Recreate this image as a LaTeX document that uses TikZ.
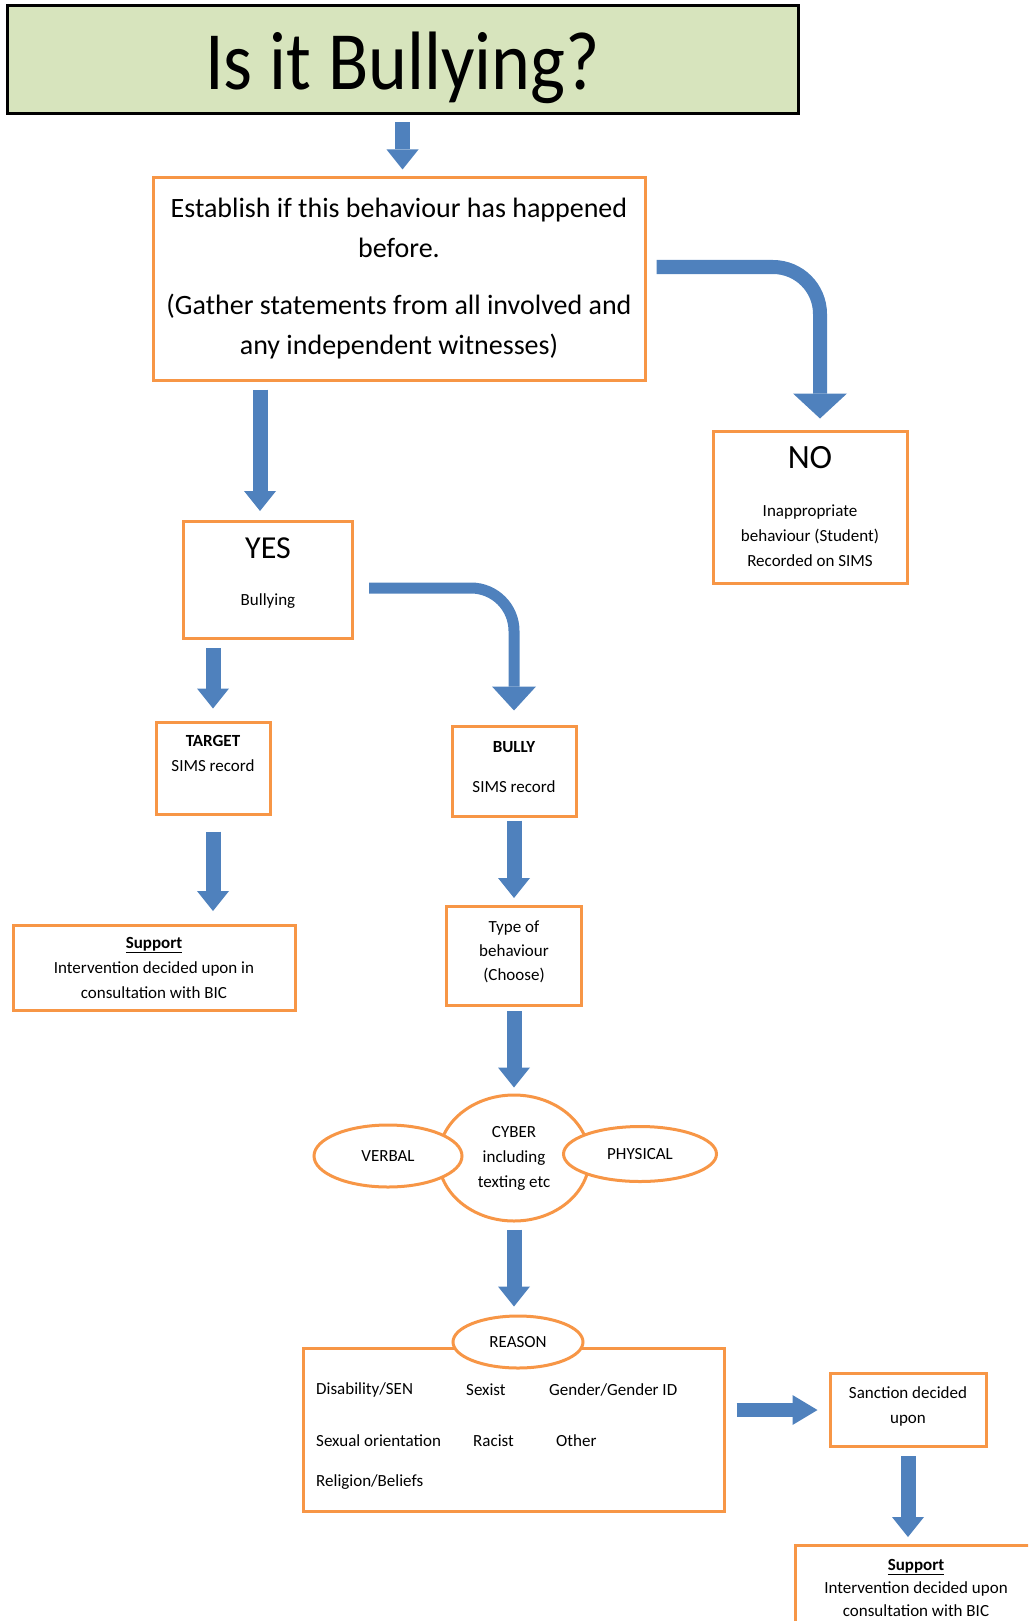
\documentclass[tikz,border=0pt]{standalone}
\usepackage{fontspec}
\setmainfont{Carlito}
\usetikzlibrary{shapes.geometric, arrows.meta, positioning, calc}
\definecolor{boxorange}{HTML}{F79646}
\definecolor{titlegreen}{HTML}{D7E4BD}
\definecolor{arrowblue}{HTML}{4F81BD}

\begin{document}
\begin{tikzpicture}[x=1pt, y=-1pt,
    box/.style={draw=boxorange, line width=3pt, fill=white, align=center, inner sep=0pt},
    oval/.style={ellipse, draw=boxorange, line width=3pt, fill=white, align=center, inner sep=0pt},
    small/.style={font=\fontsize{17}{25}\selectfont},
    reasontxt/.style={small, anchor=west, inner sep=0pt},
    blockarrow/.style={draw=arrowblue, line width=15pt, shorten <=7pt, shorten >=7pt,
      -{Triangle[width=32pt, length=20pt, line width=0pt]}},
  ]
  \useasboundingbox (0,0) rectangle (1028,1621);
  \clip (0,0) rectangle (1028,1621);

  % title and first question
  \node[draw=black, line width=3pt, fill=titlegreen, minimum width=791pt, minimum height=108pt,
    inner sep=0pt, font=\fontsize{74}{80}\selectfont] (title) at (402.5,60)
    {\raisebox{-30pt}[0pt][0pt]{\scalebox{1}[1.12]{Is it Bullying?}}};
  \node[box, minimum width=492pt, minimum height=202pt, font=\fontsize{28}{40}\selectfont] (est) at (399,279)
    {Establish if this behaviour has happened\\before.\\[17pt](Gather statements from all involved and\\any independent witnesses)};

  % answers
  \node[box, small, minimum width=194pt, minimum height=152pt] (no) at (810,507)
    {{\fontsize{34}{40}\selectfont NO}\\[23pt]Inappropriate\\behaviour (Student)\\Recorded on SIMS};
  \node[box, small, minimum width=169pt, minimum height=117pt] (yes) at (268,580)
    {{\fontsize{32}{40}\selectfont YES}\\[22pt]Bullying\\[-9pt]\mbox{}};

  % target side
  \node[box, small, minimum width=114pt, minimum height=92pt] (target) at (213,768)
    {\textbf{TARGET}\\SIMS record\\[5pt]\mbox{}};
  \node[box, small, minimum width=282pt, minimum height=85pt] (supl) at (154,968)
    {\underline{\textbf{Support}}\\Intervention decided upon in\\consultation with BIC};

  % bully side
  \node[box, small, minimum width=124pt, minimum height=90pt] (bully) at (514,771)
    {\textbf{BULLY}\\[15pt]SIMS record\\[-17pt]\mbox{}};
  \node[box, minimum width=135pt, minimum height=99pt, font=\fontsize{17}{24}\selectfont] (type) at (514,956)
    {Type of\\behaviour\\(Choose)\\[-14pt]\mbox{}};

  \node[oval, small, minimum width=151pt, minimum height=126pt] (cyber) at (514,1158)
    {CYBER\\including\\texting etc};
  \node[oval, small, minimum width=148pt, minimum height=62pt] (verbal) at (388,1156) {VERBAL};
  \node[oval, small, minimum width=153pt, minimum height=55pt] (physical) at (640,1154) {PHYSICAL};

  % reasons
  \node[box, minimum width=421pt, minimum height=163pt] (reasbox) at (513.5,1429.5) {};
  \node[oval, small, minimum width=130pt, minimum height=52pt] (reason) at (518,1342) {REASON};
  \node[reasontxt] (disab) at (316,1390) {Disability/SEN};
  \node[reasontxt] (sexist) at (466,1390) {Sexist};
  \node[reasontxt] (gender) at (549,1390) {Gender/Gender ID};
  \node[reasontxt] (sexor) at (316,1441) {Sexual orientation};
  \node[reasontxt] (racist) at (473,1441) {Racist};
  \node[reasontxt] (other) at (556,1441) {Other};
  \node[reasontxt] (relig) at (316,1482) {Religion/Beliefs};

  \node[box, small, minimum width=156pt, minimum height=73pt] (sanction) at (908,1410)
    {Sanction decided\\upon\\[-15pt]\mbox{}};
  \node[box, anchor=north, minimum width=242pt, minimum height=84pt, font=\fontsize{17}{23}\selectfont] (supr) at (916,1544)
    {\underline{\textbf{Support}}\\Intervention decided upon\\consultation with BIC};

  % arrows
  \coordinate (yesin) at ($(yes.north)+(-8,0)$);
  \draw[blockarrow] (title.south) -- (title.south |- est.north);
  \draw[blockarrow, line width=14pt, rounded corners=47pt, shorten <=0pt, shorten >=0pt,
    -{Triangle[width=54pt, length=25pt, line width=0pt]}]
    ($(est.east)+(10,-12)$) -| ($(no.north)+(10,-11)$);
  \draw[blockarrow, shorten <=8pt, shorten >=9pt] (yesin |- est.south) -- (yesin);
  \draw[blockarrow, line width=11pt, rounded corners=43pt, shorten <=0pt, shorten >=14pt,
    -{Triangle[width=44pt, length=24pt, line width=0pt]}]
    ($(yes.east)+(15,8)$) -| (bully.north);
  \draw[blockarrow, shorten <=8pt, shorten >=12pt] (target.north |- yes.south) -- (target.north);
  \draw[blockarrow, shorten <=16pt, shorten >=13pt] (target.south) -- (target.south |- supl.north);
  \draw[blockarrow, shorten <=3pt, shorten >=7pt] (bully.south) -- (bully.south |- type.north);
  \draw[blockarrow, shorten <=4pt, shorten >=6pt] (type.south) -- (type.south |- cyber.north);
  \draw[blockarrow, shorten <=7pt, shorten >=8pt] (cyber.south) -- (cyber.south |- reason.north);
  \draw[blockarrow, line width=14pt, shorten <=11pt, shorten >=11pt,
    -{Triangle[width=30pt, length=25pt, line width=0pt]}]
    (reasbox.east |- sanction.west) -- (sanction.west);
  \draw[blockarrow, shorten <=8pt, shorten >=7pt] (sanction.south) -- (sanction.south |- supr.north);
\end{tikzpicture}
\end{document}
